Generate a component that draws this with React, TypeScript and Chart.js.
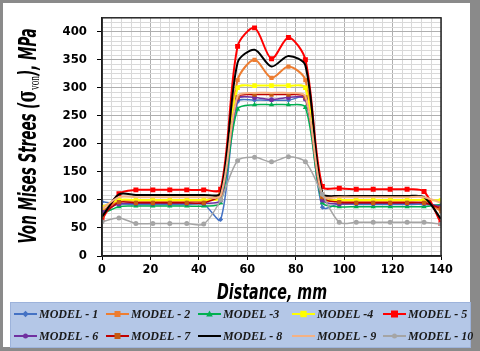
import React, { useEffect, useRef } from "react";
import { Chart, registerables } from "chart.js";

Chart.register(...registerables);

// ---------- data ----------
const distance = [0, 7, 14, 21, 28, 35, 42, 49, 56, 63, 70, 77, 84, 91, 98, 105, 112, 119, 126, 133, 140];

const model1 = [97, 93, 92, 92, 92, 92, 92, 65, 275, 278, 278, 278, 282, 87, 93, 92, 92, 92, 92, 92, 90];
const model2 = [80, 98, 98, 98, 98, 98, 98, 115, 314, 350, 318, 338, 314, 110, 98, 98, 98, 98, 98, 98, 80];
const model3 = [75, 88, 89, 89, 89, 89, 89, 95, 262, 270, 270, 270, 265, 95, 88, 88, 88, 88, 88, 88, 92];
const model4 = [87, 100, 100, 100, 100, 100, 100, 105, 300, 304, 304, 304, 300, 103, 100, 100, 100, 100, 100, 100, 99];
const model5 = [65, 111, 118, 118, 118, 118, 118, 119, 374, 407, 352, 390, 350, 124, 121, 119, 119, 119, 119, 115, 58];
const model6 = [78, 93, 94, 94, 94, 94, 94, 100, 280, 283, 279, 283, 280, 100, 93, 94, 94, 94, 94, 94, 88];
const model7 = [72, 96, 95, 95, 95, 95, 95, 110, 283, 288, 288, 288, 283, 105, 96, 95, 95, 95, 95, 95, 85];
const model8 = [70, 110, 109, 109, 109, 109, 109, 112, 345, 368, 338, 357, 340, 112, 107, 107, 107, 107, 107, 105, 66];
const model9 = [84, 105, 105, 105, 105, 105, 105, 108, 285, 291, 291, 291, 285, 108, 105, 105, 105, 105, 105, 105, 95];
const model10 = [61, 68, 58, 58, 58, 58, 57, 100, 170, 176, 168, 177, 168, 110, 60, 60, 60, 60, 60, 60, 57];

const seriesNames = [
  "MODEL - 1", "MODEL - 2", "MODEL -3", "MODEL -4", "MODEL - 5",
  "MODEL - 6", "MODEL - 7", "MODEL - 8", "MODEL - 9", "MODEL - 10",
];
const seriesValues = [model1, model2, model3, model4, model5, model6, model7, model8, model9, model10];

const xTickLabels = [0, 20, 40, 60, 80, 100, 120, 140];
const yTickLabels = [0, 50, 100, 150, 200, 250, 300, 350, 400];

const xAxisTitle = "Distance, mm";
const yTitleParts = ["Von Mises Strees (", "σ", "von", "), MPa"];

// ---------- styles ----------
type Sty = { line: string; marker: string; shape: string; r: number; w: number };
const styles: Sty[] = [
  { line: "#4472C4", marker: "#4472C4", shape: "rectRot", r: 2.5, w: 1.5 },
  { line: "#ED7D31", marker: "#ED7D31", shape: "rect", r: 3, w: 2 },
  { line: "#00B050", marker: "#00B050", shape: "triangle", r: 3, w: 1.5 },
  { line: "#FFFF00", marker: "#FFFF00", shape: "rect", r: 3.2, w: 2 },
  { line: "#FF0000", marker: "#FF0000", shape: "rect", r: 3.5, w: 2 },
  { line: "#7030A0", marker: "#7030A0", shape: "circle", r: 2.5, w: 1.5 },
  { line: "#C00000", marker: "#C55A11", shape: "rect", r: 3, w: 1.5 },
  { line: "#000000", marker: "#000000", shape: "none", r: 0, w: 2 },
  { line: "#F4B183", marker: "#F4B183", shape: "none", r: 0, w: 2 },
  { line: "#A5A5A5", marker: "#A5A5A5", shape: "circle", r: 2.5, w: 1.5 },
];

const TICK_FONT = "'DejaVu Sans Condensed', 'DejaVu Sans', sans-serif";

function drawMarker(ctx: CanvasRenderingContext2D, shape: string, x: number, y: number, r: number, color: string) {
  if (shape === "none") return;
  ctx.save();
  ctx.fillStyle = color;
  ctx.beginPath();
  if (shape === "rect") {
    ctx.rect(x - r, y - r, 2 * r, 2 * r);
  } else if (shape === "circle") {
    ctx.arc(x, y, r, 0, Math.PI * 2);
  } else if (shape === "triangle") {
    ctx.moveTo(x, y - r * 1.2);
    ctx.lineTo(x + r * 1.1, y + r * 0.8);
    ctx.lineTo(x - r * 1.1, y + r * 0.8);
    ctx.closePath();
  } else if (shape === "rectRot") {
    ctx.moveTo(x, y - r * 1.3);
    ctx.lineTo(x + r * 1.3, y);
    ctx.lineTo(x, y + r * 1.3);
    ctx.lineTo(x - r * 1.3, y);
    ctx.closePath();
  }
  ctx.fill();
  ctx.restore();
}

const framePlugin = {
  id: "frameDeco",
  beforeDraw(chart: any) {
    const ctx: CanvasRenderingContext2D = chart.ctx;
    ctx.save();
    ctx.fillStyle = "#8a8a8a";
    ctx.fillRect(0, 0, 480, 351);
    ctx.fillStyle = "#ffffff";
    ctx.fillRect(3, 3, 467, 344);
    ctx.restore();
  },
  afterDraw(chart: any) {
    const ctx: CanvasRenderingContext2D = chart.ctx;
    const { left, top, right, bottom } = chart.chartArea;
    ctx.save();
    // plot frame
    ctx.strokeStyle = "#262626";
    ctx.lineWidth = 1.5;
    ctx.strokeRect(left, top, right - left, bottom - top);

    // y axis title (rotated, with subscript)
    ctx.save();
    ctx.translate(36, 136);
    ctx.rotate(-Math.PI / 2);
    const fMain = `italic bold 24px ${TICK_FONT}`;
    const fSig = `bold 27px 'DejaVu Serif', serif`;
    const fSub = `15px 'Liberation Serif', serif`;
    const fonts = [fMain, fSig, fSub, fMain];
    const dys = [0, 0, 3, 0];
    let W = 0;
    const widths: number[] = [];
    yTitleParts.forEach((t, i) => {
      ctx.font = fonts[i];
      const w = ctx.measureText(t).width;
      widths.push(w);
      W += w;
    });
    const target = 215;
    ctx.scale(target / W, 1);
    ctx.fillStyle = "#000";
    ctx.textBaseline = "alphabetic";
    ctx.textAlign = "left";
    let cx = -W / 2;
    yTitleParts.forEach((t, i) => {
      ctx.font = fonts[i];
      ctx.fillText(t, cx, dys[i]);
      cx += widths[i];
    });
    ctx.restore();

    // x axis title
    ctx.save();
    ctx.font = `italic bold 22px ${TICK_FONT}`;
    const xw = ctx.measureText(xAxisTitle).width;
    ctx.translate(272, 299);
    ctx.scale(110 / xw, 1);
    ctx.fillStyle = "#000";
    ctx.textAlign = "center";
    ctx.textBaseline = "alphabetic";
    ctx.fillText(xAxisTitle, 0, 0);
    ctx.restore();

    // legend box
    ctx.fillStyle = "#B4C7E7";
    ctx.fillRect(10, 302, 461, 45);
    ctx.strokeStyle = "#9DB3DB";
    ctx.lineWidth = 1;
    ctx.strokeRect(10.5, 302.5, 460, 45);
    const colX = [14, 106, 198, 292, 383];
    const rowY = [314, 336];
    ctx.font = `italic bold 12px 'Liberation Serif', serif`;
    ctx.textBaseline = "middle";
    ctx.textAlign = "left";
    seriesNames.forEach((name, i) => {
      const x = colX[i % 5];
      const y = rowY[Math.floor(i / 5)];
      const s = styles[i];
      ctx.strokeStyle = s.line;
      ctx.lineWidth = 2;
      ctx.beginPath();
      ctx.moveTo(x, y);
      ctx.lineTo(x + 23, y);
      ctx.stroke();
      drawMarker(ctx, s.shape, x + 11.5, y, s.r, s.marker);
      ctx.fillStyle = "#1a1a1a";
      ctx.fillText(name, x + 25, y + 0.5);
    });
    ctx.restore();
  },
};

export default function App() {
  const ref = useRef<HTMLCanvasElement | null>(null);

  useEffect(() => {
    if (!ref.current) return;
    const datasets = seriesValues.map((vals, i) => {
      const s = styles[i];
      return {
        label: seriesNames[i],
        data: distance.map((x, j) => ({ x, y: vals[j] })),
        borderColor: s.line,
        backgroundColor: s.marker,
        pointBackgroundColor: s.marker,
        pointBorderColor: s.marker,
        pointBorderWidth: 0,
        pointStyle: s.shape === "none" ? false : s.shape,
        pointRadius: s.r,
        borderWidth: s.w,
        tension: 0.3,
        order: 10 - i,
      };
    });

    const yStep = 25 / 3;
    const chart = new Chart(ref.current, {
      type: "line",
      data: { datasets: datasets as any },
      plugins: [framePlugin],
      options: {
        animation: false,
        responsive: false,
        devicePixelRatio: 1,
        layout: { padding: { left: 0, right: 39, top: 14, bottom: 65 } },
        plugins: { legend: { display: false }, tooltip: { enabled: false } },
        scales: {
          x: {
            type: "linear",
            min: 0,
            max: 140,
            afterBuildTicks: (axis: any) => {
              axis.ticks = Array.from({ length: 36 }, (_, i) => ({ value: i * 4 }));
            },
            afterFit: (axis: any) => {
              axis.height = 30;
            },
            ticks: {
              autoSkip: false,
              maxRotation: 0,
              padding: 2,
              color: "#000",
              font: { family: TICK_FONT, size: 12.5, weight: "bold" },
              callback: (v: any) => (xTickLabels.includes(Number(v)) ? String(v) : ""),
            },
            grid: {
              color: (c: any) => (c.tick && c.tick.value % 20 === 0 ? "#AFAFAF" : "#D9D9D9"),
              tickColor: (c: any) => (c.tick && c.tick.value % 20 === 0 ? "#000" : "rgba(0,0,0,0)"),
              tickLength: 4,
              lineWidth: 1,
            },
            border: { color: "#000", width: 1.5 },
          },
          y: {
            type: "linear",
            min: 0,
            max: 425,
            afterBuildTicks: (axis: any) => {
              axis.ticks = Array.from({ length: 52 }, (_, i) => ({ value: i * yStep }));
            },
            afterFit: (axis: any) => {
              axis.width = 102;
            },
            ticks: {
              autoSkip: false,
              padding: 10,
              color: "#000",
              font: { family: TICK_FONT, size: 13, weight: "bold" },
              callback: (_v: any, idx: number) => (idx % 6 === 0 && yTickLabels[idx / 6] !== undefined ? String(yTickLabels[idx / 6]) : ""),
            },
            grid: {
              color: (c: any) => (c.index % 6 === 0 ? "#AFAFAF" : "#D9D9D9"),
              tickColor: (c: any) => (c.index % 6 === 0 ? "#000" : "rgba(0,0,0,0)"),
              tickLength: 5,
              lineWidth: 1,
            },
            border: { color: "#000", width: 1.5 },
          },
        },
      } as any,
    });
    return () => chart.destroy();
  }, []);

  return (
    <div style={{ position: "fixed", left: 0, top: 0, width: 480, height: 351 }}>
      <canvas ref={ref} width={480} height={351} style={{ width: 480, height: 351, display: "block" }} />
    </div>
  );
}
